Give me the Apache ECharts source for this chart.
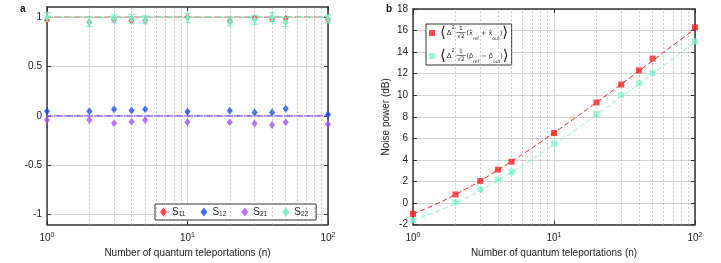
<!DOCTYPE html>
<html><head><meta charset="utf-8">
<script src="https://cdn.jsdelivr.net/npm/echarts@6/dist/echarts.min.js"></script>
<style>html,body{margin:0;padding:0;background:#fff}#c{width:721px;height:263px}</style>
</head><body><div id="c"></div>
<script>
// ---------- data ----------
const nValues = [1, 2, 3, 4, 5, 10, 20, 30, 40, 50, 100];
const s11 = [0.967, 0.947, 0.97, 0.963, 0.963, 0.997, 0.957, 0.99, 0.98, 0.98, 0.97];
const s12 = [0.047, 0.047, 0.066, 0.053, 0.066, 0.04, 0.05, 0.033, 0.033, 0.072, 0.013];
const s21 = [-0.043, -0.043, -0.076, -0.06, -0.043, -0.066, -0.066, -0.079, -0.092, -0.066, -0.086];
const s22 = [0.997, 0.947, 0.98, 0.98, 0.97, 0.99, 0.947, 0.97, 0.997, 0.947, 0.98];
const s22Err = [0.045, 0.045, 0.04, 0.045, 0.04, 0.045, 0.04, 0.045, 0.045, 0.045, 0.04];
const refLineS = [[1, 1], [100, 1]];
const refLineOff = [[1, 0], [100, 0]];
const xNoise = [-1.0, 0.8, 2.05, 3.1, 3.83, 6.5, 9.33, 11.0, 12.3, 13.4, 16.3];
const pNoise = [-1.6, 0.06, 1.27, 2.15, 2.87, 5.5, 8.27, 10.0, 11.1, 12.07, 15.0];
const fitN = [1, 1.5, 2, 3, 5, 7, 10, 15, 20, 30, 50, 70, 100];
const xFit = [-1.02, -0.02, 0.79, 2.07, 3.86, 5.12, 6.51, 8.15, 9.33, 11.03, 13.2, 14.64, 16.17];
const pFit = [-1.62, -0.74, -0.01, 1.16, 2.84, 4.05, 5.40, 7.00, 8.17, 9.85, 12.0, 13.43, 14.95];
const minorX = [2, 3, 4, 5, 6, 7, 8, 9, 20, 30, 40, 50, 60, 70, 80, 90];
const yTicksA = [-1, -0.5, 0, 0.5, 1];
const namesA = ['S11', 'S12', 'S21', 'S22'];
const namesB = ['x_ref + x_out', 'p_ref - p_out'];

// ---------- style ----------
const FONT = 'Liberation Sans';
const RED = '#ff1a1a', BLUE = '#1447ff', PURPLE = '#a64dff', GREEN = '#6ff2c8', GREENB = '#80f5d2';
const AX = '#333';
const pair = (xs, ys) => xs.map((x, i) => [x, ys[i]]);

const expLabel = {
  fontFamily: FONT, fontSize: 10, color: '#222', margin: 7,
  formatter: v => '{b|10}{s|' + Math.round(Math.log10(v)) + '}',
  rich: { b: { fontFamily: FONT, fontSize: 10, color: '#222' },
          s: { fontFamily: FONT, fontSize: 7, color: '#222', verticalAlign: 'top', padding: [0, 0, 6, 0] } }
};
const axLine = { show: true, onZero: false, lineStyle: { color: AX, width: 1.5 } };
function xBottom(gi) {
  return { type: 'log', logBase: 10, min: 1, max: 100, gridIndex: gi, position: 'bottom',
    axisLine: axLine,
    axisTick: { show: true, inside: true, length: 4, lineStyle: { color: AX } },
    minorTick: { show: false }, axisLabel: expLabel,
    splitLine: { show: true, lineStyle: { color: '#d4d4d4', width: 1 } },
    name: 'Number of quantum teleportations (n)', nameLocation: 'middle', nameGap: 19,
    nameTextStyle: { fontFamily: FONT, fontSize: 10, color: '#222' } };
}
function xTop(gi) {
  return { type: 'log', logBase: 10, min: 1, max: 100, gridIndex: gi, position: 'top',
    axisLine: axLine,
    axisTick: { show: true, inside: true, length: 4, lineStyle: { color: AX } },
    axisLabel: { show: false }, splitLine: { show: false } };
}
function minorGrid(xi, yi, y0) {
  return { type: 'line', xAxisIndex: xi, yAxisIndex: yi, data: [[1, y0]], symbol: 'none', silent: true,
    lineStyle: { opacity: 0 }, z: 1,
    markLine: { symbol: 'none', silent: true, label: { show: false }, animation: false,
      lineStyle: { type: [1, 3], color: '#9a9a9a', width: 1 },
      data: minorX.map(v => ({ xAxis: v })) } };
}
function errBars(color) {
  return function (params, api) {
    const x = api.value(0), y = api.value(1), e = api.value(2);
    const t = api.coord([x, y + e]), b = api.coord([x, y - e]);
    const w = 3, st = { stroke: color, lineWidth: 1 };
    return { type: 'group', children: [
      { type: 'line', shape: { x1: t[0], y1: t[1], x2: b[0], y2: b[1] }, style: st },
      { type: 'line', shape: { x1: t[0] - w, y1: t[1], x2: t[0] + w, y2: t[1] }, style: st },
      { type: 'line', shape: { x1: b[0] - w, y1: b[1], x2: b[0] + w, y2: b[1] }, style: st }
    ] };
  };
}

const chart = echarts.init(document.getElementById('c'), null, { renderer: 'canvas' });
const sym = 'diamond', symS = [6, 8];
const fracFont = '6px "DejaVu Sans"';
function frac(x0, y0) {
  return [
    { type: 'text', x: x0 + 5, y: y0, z: 200, silent: true, style: { text: '1', font: fracFont, fill: '#222', align: 'center', verticalAlign: 'top' } },
    { type: 'line', z: 200, silent: true, shape: { x1: x0 + 0.5, y1: y0 + 7.5, x2: x0 + 9.5, y2: y0 + 7.5 }, style: { stroke: '#222', lineWidth: 0.6 } },
    { type: 'text', x: x0 + 5, y: y0 + 8.3, z: 200, silent: true, style: { text: '√2', font: fracFont, fill: '#222', align: 'center', verticalAlign: 'top' } }
  ];
}

const option = {
  animation: false,
  backgroundColor: '#fff',
  grid: [
    { left: 47, top: 7, width: 281, height: 223 },
    { left: 413, top: 9, width: 282, height: 221 }
  ],
  xAxis: [xBottom(0), xTop(0), xBottom(1), xTop(1)],
  yAxis: [
    { type: 'value', gridIndex: 0, min: -1.1, max: 1.1,
      axisLine: axLine,
      axisTick: { show: true, inside: true, length: 4, customValues: yTicksA, lineStyle: { color: AX } },
      axisLabel: { customValues: yTicksA, fontFamily: FONT, fontSize: 10, color: '#222', margin: 5 },
      splitLine: { show: true, lineStyle: { color: '#d4d4d4' } } },
    { type: 'value', gridIndex: 0, min: -1.1, max: 1.1, position: 'right',
      axisLine: axLine,
      axisTick: { show: true, inside: true, length: 4, customValues: yTicksA, lineStyle: { color: AX } },
      axisLabel: { show: false }, splitLine: { show: false } },
    { type: 'value', gridIndex: 1, min: -2, max: 18, interval: 2,
      axisLine: axLine,
      axisTick: { show: true, inside: true, length: 4, lineStyle: { color: AX } },
      axisLabel: { fontFamily: FONT, fontSize: 10, color: '#222', margin: 5 },
      splitLine: { show: true, lineStyle: { color: '#d4d4d4' } },
      name: 'Noise power (dB)', nameLocation: 'middle', nameGap: 22,
      nameTextStyle: { fontFamily: FONT, fontSize: 10, color: '#222' } },
    { type: 'value', gridIndex: 1, min: -2, max: 18, interval: 2, position: 'right',
      axisLine: axLine,
      axisTick: { show: true, inside: true, length: 4, lineStyle: { color: AX } },
      axisLabel: { show: false }, splitLine: { show: false } }
  ],
  legend: [
    { data: namesA, left: 155, top: 204, orient: 'horizontal', icon: 'diamond',
      itemWidth: 7, itemHeight: 9, itemGap: 15, padding: [3, 8, 2, 5],
      borderColor: '#333', borderWidth: 1, backgroundColor: '#fff', selectedMode: false,
      formatter: n => '{m|S}{s|' + n.slice(1) + '}',
      textStyle: { rich: {
        m: { fontFamily: FONT, fontSize: 10, color: '#222' },
        s: { fontFamily: FONT, fontSize: 6.5, color: '#222', verticalAlign: 'bottom', padding: [5, 0, 0, 0] } } } },
    { data: namesB, left: 426, top: 24, orient: 'vertical', icon: 'rect',
      itemWidth: 6, itemHeight: 6, itemGap: 7, padding: [1, 3, 1, 3],
      borderColor: '#333', borderWidth: 1, backgroundColor: '#fff', selectedMode: false,
      formatter: n => {
        const v = n[0];
        const op = v === 'x' ? ' + ' : ' − ';
        return '{a|⟨}{d|Δ}{sp|2}{g| }{t|(' + v + '\u0302}{sb|ref}{t|' + op + v + '\u0302}{sb|out}{t|)}{a|⟩}';
      },
      textStyle: { rich: {
        a: { fontFamily: 'DejaVu Sans', fontSize: 15, lineHeight: 16, color: '#222' },
        d: { fontFamily: 'DejaVu Sans', fontSize: 7, color: '#222', padding: [0, 0, 0, 1] },
        sp: { fontFamily: FONT, fontSize: 5, color: '#222', verticalAlign: 'top', padding: [0, 0, 5, 0] },
        g: { width: 12 },
        t: { fontFamily: 'DejaVu Sans', fontSize: 6.5, color: '#222' },
        sb: { fontFamily: 'DejaVu Sans', fontSize: 4.5, color: '#222', verticalAlign: 'bottom', padding: [3, 0, 0, 0] } } } }
  ],
  graphic: [
    { type: 'text', left: 20, top: 4, style: { text: 'a', font: 'bold 10px "Liberation Sans"', fill: '#111' } },
    { type: 'text', left: 386, top: 4, style: { text: 'b', font: 'bold 10px "Liberation Sans"', fill: '#111' } }
  ].concat(frac(456, 25), frac(456, 48)),
  series: [
    minorGrid(0, 0, -1.1),
    minorGrid(2, 2, -2),
    // panel a reference lines
    { name: 'S11 ref', type: 'line', xAxisIndex: 0, yAxisIndex: 0, data: refLineS, symbol: 'none', z: 2,
      lineStyle: { color: '#e07a7a', width: 1, type: [6, 4], dashOffset: 3 } },
    { name: 'S22 ref', type: 'line', xAxisIndex: 0, yAxisIndex: 0, data: refLineS, symbol: 'none', z: 2,
      lineStyle: { color: '#86dcb8', width: 1.2, type: [6, 4] } },
    { name: 'S12 ref', type: 'line', xAxisIndex: 0, yAxisIndex: 0, data: refLineOff, symbol: 'none', z: 2,
      lineStyle: { color: '#6a6aff', width: 1, type: [6, 4], dashOffset: 3 } },
    { name: 'S21 ref', type: 'line', xAxisIndex: 0, yAxisIndex: 0, data: refLineOff, symbol: 'none', z: 2,
      lineStyle: { color: '#a05af0', width: 1.2, type: [6, 4] } },
    // panel a markers
    { name: 'S11', type: 'scatter', xAxisIndex: 0, yAxisIndex: 0, data: pair(nValues, s11), symbol: sym, symbolSize: symS,
      itemStyle: { color: RED }, z: 3 },
    { name: 'S12', type: 'scatter', xAxisIndex: 0, yAxisIndex: 0, data: pair(nValues, s12), symbol: sym, symbolSize: symS,
      itemStyle: { color: BLUE }, z: 3 },
    { name: 'S21', type: 'scatter', xAxisIndex: 0, yAxisIndex: 0, data: pair(nValues, s21), symbol: sym, symbolSize: symS,
      itemStyle: { color: PURPLE }, z: 3 },
    { name: 'S22 err', type: 'custom', xAxisIndex: 0, yAxisIndex: 0, z: 4,
      data: nValues.map((n, i) => [n, s22[i], s22Err[i]]), encode: { x: 0, y: 1 },
      renderItem: errBars(GREEN) },
    { name: 'S22', type: 'scatter', xAxisIndex: 0, yAxisIndex: 0, data: pair(nValues, s22), symbol: sym, symbolSize: symS,
      itemStyle: { color: GREEN, opacity: 0.9 }, z: 5 },
    // panel b
    { name: 'x fit', type: 'line', xAxisIndex: 2, yAxisIndex: 2, data: pair(fitN, xFit), symbol: 'none', smooth: true, z: 2,
      lineStyle: { color: RED, width: 1, type: [5, 3] } },
    { name: 'p fit', type: 'line', xAxisIndex: 2, yAxisIndex: 2, data: pair(fitN, pFit), symbol: 'none', smooth: true, z: 2,
      lineStyle: { color: GREENB, width: 1, type: [5, 3] } },
    { name: namesB[0], type: 'scatter', xAxisIndex: 2, yAxisIndex: 2, data: pair(nValues, xNoise), symbol: 'rect', symbolSize: 6,
      itemStyle: { color: RED }, z: 3 },
    { name: namesB[1], type: 'scatter', xAxisIndex: 2, yAxisIndex: 2, data: pair(nValues, pNoise), symbol: 'rect', symbolSize: 6,
      itemStyle: { color: GREENB }, z: 3 }
  ]
};
chart.setOption(option);
</script></body></html>
